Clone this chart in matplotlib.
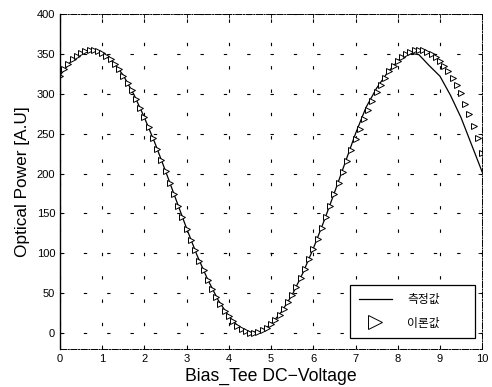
import matplotlib
matplotlib.use("Agg")
import matplotlib.pyplot as plt
import numpy as np

plt.rcParams['font.family'] = ['Liberation Sans', 'Noto Sans CJK KR', 'DejaVu Sans']

# theoretical curve, sampled every 0.1 V
theory_v = np.round(np.arange(0, 10.01, 0.1), 1)
theory_p = [322.8, 330.6, 337.4, 343.2, 347.8, 351.3, 353.7, 354.9, 354.9, 353.7, 351.3,
            347.8, 343.2, 337.4, 330.6, 322.8, 314.0, 304.3, 293.7, 282.4, 270.4,
            257.8, 244.6, 231.0, 217.0, 202.8, 188.4, 173.9, 159.4, 145.1, 131.0,
            117.2, 103.8, 90.9, 78.5, 66.8, 55.9, 45.8, 36.5, 28.2, 20.9,
            14.6, 9.4, 5.3, 2.4, 0.6, 0.0, 1.2, 3.5, 6.8, 11.2,
            16.8, 23.2, 30.7, 39.0, 48.3, 58.3, 69.2, 80.8, 92.8, 105.6,
            118.5, 132.2, 145.8, 159.9, 174.1, 188.0, 202.2, 215.9, 229.7, 242.8,
            255.9, 268.4, 280.1, 291.3, 301.7, 311.5, 320.2, 328.2, 335.2, 341.1,
            346.1, 350.0, 352.8, 354.4, 355.0, 354.4, 352.8, 350.0, 346.1, 341.1,
            335.2, 328.2, 320.2, 311.5, 300.5, 287.5, 274.0, 260.0, 244.0, 226.0]

# measured curve
meas_v = [0, 0.25, 0.5, 0.75, 1.0, 1.25, 1.5, 1.75, 2.0, 2.25, 2.5, 2.75, 3.0, 3.25,
          3.5, 3.75, 4.0, 4.25, 4.5, 4.75, 5.0, 5.25, 5.5, 5.75, 6.0, 6.25, 6.5, 6.75,
          7.0, 7.25, 7.5, 7.75, 8.0, 8.25, 8.5, 8.75, 9.0, 9.25, 9.5, 9.75, 10.0]
meas_p = [323, 340, 351, 355, 351, 340, 323, 299, 270, 238, 203, 167, 131, 97,
          67, 41, 21, 7, 1, 2, 11, 27, 48, 75, 106, 140, 176, 213,
          250, 283, 307, 326, 341, 351, 349, 335, 322, 298, 270, 236, 202]

fig = plt.figure(figsize=(4.92, 3.87), dpi=100)
ax = fig.add_axes([0.122, 0.098, 0.858, 0.866])

ax.plot(meas_v, meas_p, color='black', lw=0.9, label='측정값')
ax.plot(theory_v, theory_p, ls='none', marker='>', ms=4.0, mfc='white', mec='black',
        mew=0.7, label='이론값')

ax.set_xlim(0, 10)
ax.set_ylim(-20, 400)
ax.set_xticks(range(0, 11))
ax.set_yticks(range(0, 401, 50))
ax.tick_params(direction='in', length=3, labelsize=8, width=0.6, top=True, right=True)
ax.grid(True, color='black', lw=0.8, dashes=(3, 18))

for side in ['top', 'bottom', 'right']:
    ax.spines[side].set_linestyle('-.')
    ax.spines[side].set_linewidth(0.7)
ax.spines['left'].set_linewidth(1.0)

ax.set_xlabel('Bias_Tee DC\u2212Voltage', fontsize=12.7, labelpad=3)
ax.set_ylabel('Optical Power [A.U]', fontsize=12.4, labelpad=5)

leg = ax.legend(loc='lower left', bbox_to_anchor=(0.687, 0.032, 0.296, 0.15), mode='expand',
                borderaxespad=0, fancybox=False, edgecolor='black', framealpha=1,
                fontsize=8.5, markerscale=2.5, handlelength=2.8, handletextpad=1.3,
                borderpad=0.75, labelspacing=0.95)
leg.get_frame().set_linewidth(0.9)

fig.savefig('out.png', dpi=100)
